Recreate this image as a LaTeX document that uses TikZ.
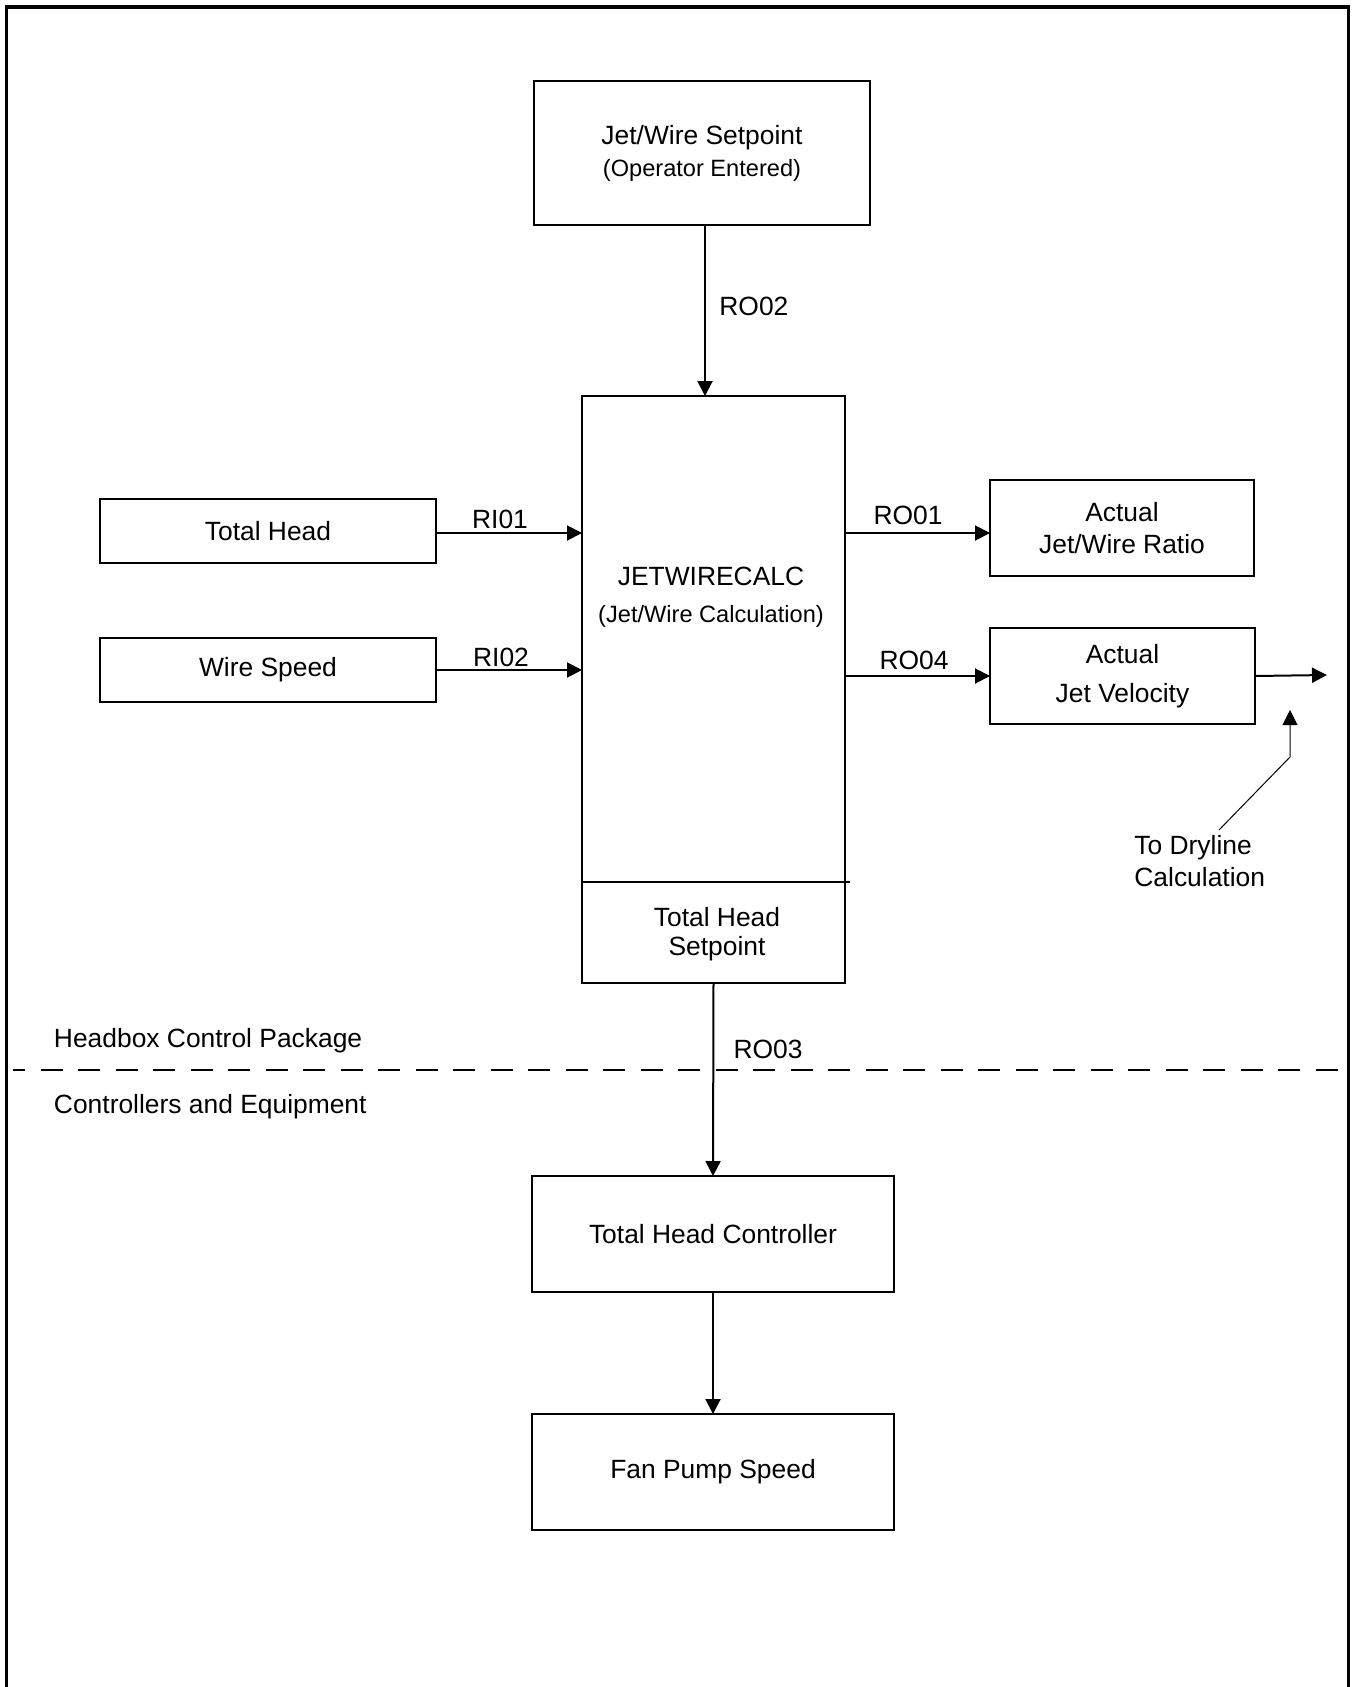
\documentclass[tikz,border=0pt]{standalone}
\usepackage{fontspec}
\setmainfont{Liberation Sans}
\usepackage{tikz}
\usetikzlibrary{arrows.meta}

\newcommand{\mainsize}{\fontsize{13.2}{16}\selectfont}
\newcommand{\smallsize}{\fontsize{11.8}{16}\selectfont}

\tikzset{
  box/.style={draw, line width=1.1pt, inner sep=0pt, outer sep=0pt, align=center, font=\mainsize},
  flow/.style={line width=1pt, -{Triangle[length=7.5pt,width=7.5pt]}},
  lbl/.style={inner sep=0pt, font=\mainsize},
}

\begin{document}
\begin{tikzpicture}[x=0.5pt, y={(0pt,-0.5pt)}]
\useasboundingbox (0,0) rectangle (1353,1687);
% rahmen
\draw[line width=1.5pt] (6.5,1687) -- (6.5,7) -- (1348,7) -- (1348,1687);
\draw[line width=2pt] (5,7) -- (1349.5,7);

% bloecke
\node[box, minimum width=168pt, minimum height=72pt] (setp) at (702,153) {Jet/Wire Setpoint\\{\smallsize (Operator Entered)}};
\node[box, minimum width=131.5pt, minimum height=293.5pt] (calc) at (713.5,689.5) {};
\node[box, minimum width=168.25pt, minimum height=32pt] (th) at (268,531) {Total Head};
\node[box, minimum width=168.25pt, minimum height=32pt] (ws) at (268,670) {Wire Speed};
\node[box, minimum width=132pt, minimum height=48pt] (ratio) at (1122,528) {Actual\\Jet/Wire Ratio};
\node[box, minimum width=132.5pt, minimum height=48pt] (vel) at (1122.5,676) {Actual\\[3.5pt]Jet Velocity};
\node[box, minimum width=181pt, minimum height=58pt] (thc) at (713,1234) {Total Head Controller};
\node[box, minimum width=181pt, minimum height=58pt] (fps) at (713,1472) {Fan Pump Speed};

% jetwirecalc innen
\node[lbl, align=center] (calcname) at (711,597) {JETWIRECALC\\[2.5pt]{\smallsize (Jet/Wire Calculation)}};
\coordinate (divr) at (850,882);
\draw[line width=1.1pt] (calc.west |- divr) -- (divr);
\node[lbl, align=center] (thsp) at (717,934) {Total Head\\[-1.25pt]Setpoint};

% verbindungen
\coordinate (ro2out) at ([xshift=1.5pt]setp.south);
\coordinate (ri1out) at ([yshift=-1pt]th.east);
\coordinate (ro1in) at ([yshift=-2.5pt]ratio.west);
\draw[flow] (ro2out) -- (ro2out |- calc.north);
\draw[flow] (ri1out) -- (ri1out -| calc.west);
\draw[flow] (ws.east) -- (ws.east -| calc.west);
\draw[flow] (calc.east |- ro1in) -- (ro1in);
\draw[flow] (calc.east |- vel.west) -- (vel.west);
\draw[flow] (calc.south) -- (thc.north);
\draw[flow] (thc.south) -- (fps.north);

\coordinate (velout) at (1327,675);
\draw[flow] (vel.east) -- (velout);

% zur dryline
\node[lbl, anchor=west, align=left] (dry) at (1134,861) {To Dryline\\Calculation};
\coordinate (dryfrom) at (1219,830);
\coordinate (drybend) at (1290,757);
\coordinate (drytip) at (1290,710);
\draw[line width=0.5pt, -{Triangle[length=7.5pt,width=7.5pt]}] (dryfrom) -- (drybend) -- (drytip);

% beschriftungen
\node[lbl, anchor=base west] (ro02) at (719,315.5) {RO02};
\node[lbl, anchor=base] (ri01) at (500,528) {RI01};
\node[lbl, anchor=base] (ri02) at (501,666.5) {RI02};
\node[lbl, anchor=base] (ro01) at (908,524.5) {RO01};
\node[lbl, anchor=base] (ro04) at (914,669.5) {RO04};
\node[lbl, anchor=base] (ro03) at (768,1058) {RO03};

% trennlinie
\draw[line width=1pt, dash pattern=on 11pt off 7.75pt, dash phase=5pt] (13,1069.6) -- (1340,1069.6);
\node[lbl, anchor=base west] (hcp) at (53.6,1047.5) {Headbox Control Package};
\node[lbl, anchor=base west] (cae) at (53.6,1113.5) {Controllers and Equipment};

\end{tikzpicture}
\end{document}
